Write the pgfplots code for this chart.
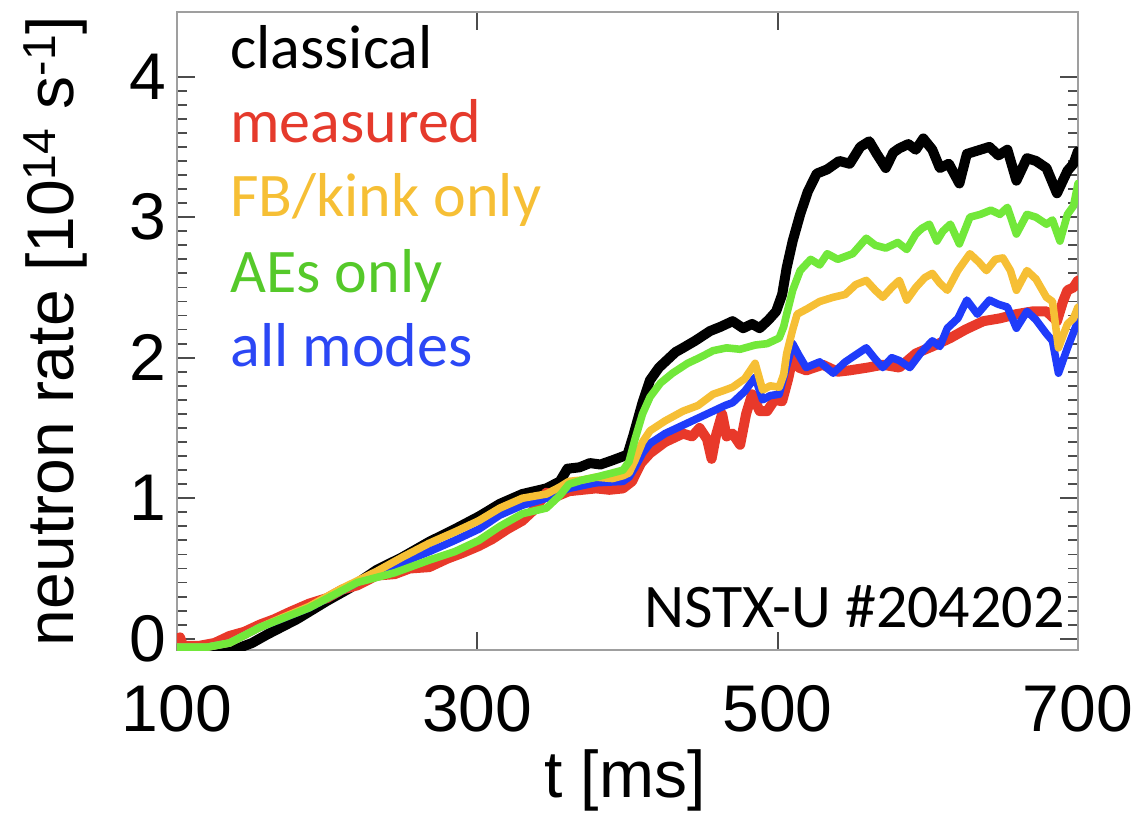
\documentclass[border=0pt]{standalone}
\usepackage{fontspec}
\setmainfont{Liberation Sans}
\newfontfamily\carlito{Carlito}
\usepackage{pgfplots}
\pgfplotsset{compat=1.18}
\definecolor{cred}{HTML}{E8392A}
\definecolor{cyellow}{HTML}{F6BF35}
\definecolor{cgreen}{HTML}{72E83A}
\definecolor{cblue}{HTML}{1F3CFA}
\definecolor{tgreen}{HTML}{55C92A}
\definecolor{tred}{HTML}{E53A2C}
\definecolor{tblue}{HTML}{2B47F5}

\begin{document}
\begin{tikzpicture}
\useasboundingbox (-88.5pt,-82.5pt) rectangle (479.5pt,325pt);
\begin{axis}[
  at={(0pt,0pt)}, anchor=south west,
  scale only axis, width=450.5pt, height=319pt,
  xmin=100, xmax=700, ymin=-0.08, ymax=4.46,
  xtick={100,300,500,700}, ytick={0,1,2,3,4},
  minor y tick num=9,
  major tick length=9pt, minor tick length=5pt,
  tick style={gray!60!black, line width=0.9pt},
  axis line style={gray!75, line width=1.3pt},
  tick label style={font=\fontsize{33}{38}\selectfont},
  /pgf/number format/assume math mode=true,
  xticklabel style={yshift=-14pt},
  yticklabel style={xshift=-2pt},
  label style={font=\fontsize{33}{38}\selectfont},
  xlabel={t [ms]},
  ylabel={neutron rate [10\textsuperscript{14} s\textsuperscript{-1}]},
  xlabel style={at={(axis description cs:0.497,-0.205)}, anchor=center},
  ylabel style={at={(axis description cs:-0.135,0.5)}, anchor=center},
  every axis plot/.append style={line join=round, line cap=round},
]
% classical
\addplot[black, line width=5pt] coordinates {
(100,-0.07)(120,-0.07)(140,-0.07)(150,-0.03)(160,0.03)(180,0.14)(200,0.27)(215,0.36)
(233,0.49)(250,0.58)(268,0.69)(285,0.78)(301,0.87)(315,0.96)(330,1.03)(346,1.07)
(355,1.12)(360,1.21)(368,1.22)(375,1.25)(382,1.24)(390,1.27)(395,1.29)(400,1.31)
(404,1.45)(410,1.68)(415,1.84)(421,1.93)(426,1.98)(432,2.04)(437,2.07)(445,2.12)
(455,2.19)(462,2.22)(470,2.26)(477,2.21)(483,2.24)(488,2.21)(494,2.27)(499,2.33)
(503,2.45)(506,2.64)(510,2.83)(515,3.02)(520,3.18)(526,3.31)(533,3.34)(541,3.40)
(548,3.38)(555,3.50)(561,3.54)(566,3.45)(572,3.35)(577,3.46)(581,3.49)(587,3.52)
(592,3.48)(597,3.56)(603,3.48)(608,3.35)(614,3.38)(621,3.24)(626,3.45)(632,3.47)
(641,3.50)(647,3.44)(653,3.48)(659,3.26)(666,3.42)(672,3.40)(679,3.35)(686,3.17)
(693,3.33)(697,3.38)(700,3.47)
};
% measured
\addplot[cred, line width=5pt] coordinates {
(100,-0.05)(102,0.01)(104,-0.05)(115,-0.05)(125,-0.03)(135,0.02)(145,0.05)(155,0.10)
(165,0.14)(175,0.19)(188,0.25)(200,0.29)(210,0.35)(220,0.38)(233,0.45)(245,0.46)
(255,0.50)(268,0.51)(280,0.57)(290,0.61)(301,0.66)(310,0.71)(320,0.78)(330,0.84)
(338,0.92)(346,1.04)(352,1.01)(361,1.05)(370,1.06)(379,1.07)(388,1.06)(397,1.07)
(403,1.12)(409,1.25)(415,1.32)(425,1.40)(437,1.46)(443,1.44)(448,1.50)(453,1.42)
(456,1.28)(459,1.45)(463,1.60)(466,1.44)(470,1.46)(475,1.38)(479,1.60)(483,1.74)
(488,1.62)(493,1.62)(498,1.70)(503,1.69)(507,1.85)(510,2.00)(514,1.93)(519,1.91)
(530,1.95)(540,1.90)(548,1.91)(560,1.93)(570,1.95)(581,1.93)(592,2.03)(603,2.08)
(615,2.14)(625,2.20)(637,2.26)(648,2.28)(659,2.31)(670,2.33)(679,2.33)(686,2.26)
(690,2.40)(693,2.48)(697,2.50)(700,2.55)
};
% all modes
\addplot[cblue, line width=3.8pt] coordinates {
(100,-0.06)(120,-0.06)(135,-0.03)(155,0.08)(188,0.22)(220,0.40)(245,0.52)(268,0.62)
(285,0.70)(301,0.78)(315,0.88)(330,0.95)(346,1.00)(361,1.07)(379,1.11)(397,1.12)
(401,1.15)(405,1.22)(410,1.32)(415,1.39)(425,1.46)(437,1.52)(447,1.57)(457,1.62)
(465,1.66)(470,1.68)(478,1.76)(485,1.86)(490,1.70)(495,1.73)(501,1.74)(505,1.90)
(510,2.10)(514,2.02)(519,1.93)(528,1.97)(537,1.89)(545,1.97)(552,2.02)(559,2.07)
(565,1.99)(570,1.93)(576,2.00)(581,1.98)(588,1.93)(595,2.03)(603,2.12)(608,2.08)
(613,2.21)(620,2.28)(626,2.41)(633,2.31)(641,2.41)(647,2.38)(653,2.36)(659,2.21)
(666,2.33)(672,2.27)(679,2.17)(683,2.12)(687,1.89)(693,2.07)(697,2.18)(700,2.26)
};
% FB/kink only
\addplot[cyellow, line width=3.8pt] coordinates {
(100,-0.06)(120,-0.06)(135,-0.03)(155,0.08)(170,0.15)(188,0.23)(210,0.36)(233,0.48)
(250,0.58)(268,0.68)(285,0.76)(301,0.84)(315,0.93)(330,1.00)(346,1.03)(355,1.08)
(361,1.12)(370,1.13)(379,1.15)(390,1.14)(397,1.16)(401,1.18)(405,1.27)(410,1.40)
(415,1.48)(425,1.55)(437,1.62)(447,1.66)(457,1.74)(465,1.77)(470,1.79)(478,1.85)
(485,1.96)(490,1.77)(495,1.80)(501,1.79)(504,1.88)(506,2.03)(510,2.20)(513,2.31)
(520,2.35)(528,2.40)(537,2.43)(545,2.45)(552,2.52)(559,2.55)(565,2.48)(570,2.43)
(576,2.50)(581,2.55)(586,2.41)(592,2.50)(598,2.57)(603,2.60)(608,2.53)(613,2.48)
(620,2.62)(628,2.74)(634,2.68)(639,2.62)(645,2.70)(650,2.71)(655,2.62)(659,2.48)
(666,2.62)(672,2.56)(679,2.43)(683,2.40)(687,2.07)(693,2.24)(697,2.28)(700,2.36)
};
% AEs only
\addplot[cgreen, line width=3.8pt] coordinates {
(100,-0.06)(120,-0.06)(135,-0.03)(155,0.08)(188,0.22)(220,0.40)(245,0.47)(268,0.56)
(285,0.62)(301,0.70)(315,0.80)(330,0.89)(346,0.93)(355,1.02)(361,1.10)(370,1.13)
(379,1.15)(390,1.18)(397,1.20)(401,1.26)(405,1.42)(410,1.60)(415,1.72)(422,1.82)
(430,1.89)(440,1.96)(448,2.00)(457,2.05)(466,2.07)(475,2.06)(485,2.09)(493,2.10)
(501,2.14)(504,2.22)(506,2.31)(510,2.48)(515,2.62)(522,2.70)(528,2.66)(533,2.74)
(540,2.70)(550,2.74)(559,2.85)(565,2.80)(572,2.78)(580,2.82)(586,2.77)(592,2.88)
(596,2.92)(601,2.95)(606,2.83)(610,2.90)(615,2.95)(621,2.81)(628,3.00)(635,3.02)
(642,3.05)(648,3.02)(653,3.07)(659,2.88)(666,3.02)(672,3.00)(679,2.95)(683,2.98)
(688,2.83)(693,3.02)(697,3.08)(700,3.24)
};
\begin{scope}[every node/.style={anchor=base west, inner sep=0pt, font=\carlito\fontsize{31}{36}\selectfont}]
\node[text=black]   at (axis description cs:0.0588,0.912) {classical};
\node[text=tred]    at (axis description cs:0.0588,0.795) {measured};
\node[text=cyellow] at (axis description cs:0.0588,0.679) {FB/kink only};
\node[text=tgreen]  at (axis description cs:0.0588,0.560) {AEs only};
\node[text=tblue]   at (axis description cs:0.0588,0.444) {all modes};
\end{scope}
\node[anchor=base east, inner sep=0pt, font=\carlito\fontsize{31}{36}\selectfont]
  at (axis description cs:0.9856,0.036) {NSTX-U \#204202};
\end{axis}
\end{tikzpicture}
\end{document}
